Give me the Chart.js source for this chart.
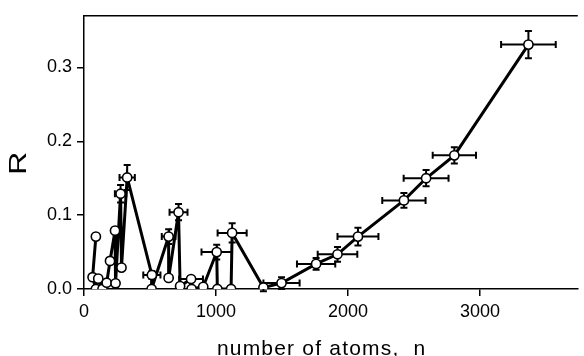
<!DOCTYPE html>
<html lang="en">
<head>
    <meta charset="UTF-8">
    <title>R vs number of atoms</title>
    <script src="https://cdn.jsdelivr.net/npm/chart.js"></script>
    <style>
        html, body {
            margin: 0;
            padding: 0;
            background: #fff;
        }
        .wrap {
            width: 584px;
            height: 356px;
        }
    </style>
</head>
<body>
<div class="wrap"><canvas id="chart"></canvas></div>
<script>
    // values, in the order the line joins them
    const atoms = [90, 65, 90, 108, 140, 172, 197, 235, 239, 277, 284, 327,
        514, 512, 641, 641, 716, 728, 811, 815, 903, 1005, 1010, 1114, 1122,
        1359, 1496, 1758, 1920, 2075, 2423, 2591, 2805, 3366];
    const rValues = [0.071, 0.016, 0.0, 0.014, 0.0, 0.0085, 0.038, 0.079, 0.0077, 0.129, 0.029, 0.151,
        0.019, 0.0, 0.071, 0.015, 0.104, 0.004, 0.0135, 0.0, 0.003, 0.05, 0.0, 0.0, 0.076,
        0.002, 0.008, 0.034, 0.047, 0.071, 0.12, 0.15, 0.181, 0.331];
    // error bars (0 = none drawn)
    const atomsErr = [0, 0, 0, 0, 0, 0, 0, 0, 0, 43, 0, 58,
        65, 0, 52, 0, 68, 0, 90, 0, 0, 115, 0, 0, 110,
        0, 137, 145, 150, 155, 164, 170, 164, 207];
    const rErr = [0, 0, 0, 0, 0, 0, 0, 0, 0, 0.012, 0, 0.017,
        0.005, 0, 0.01, 0, 0.011, 0, 0, 0, 0, 0.01, 0, 0, 0.013,
        0.005, 0.008, 0.008, 0.01, 0.012, 0.01, 0.011, 0.011, 0.0185];

    const xTicks = [0, 1000, 2000, 3000];
    const yTicks = [0, 0.1, 0.2, 0.3];
    const xTitle = "number of atoms,  n";
    const yTitle = "R";

    const points = atoms.map((x, i) => ({ x: x, y: rValues[i] }));

    // error bars drawn under the markers
    const errorBars = {
        id: 'errorBars',
        beforeDatasetsDraw(chart) {
            const ctx = chart.ctx;
            const xs = chart.scales.x, ys = chart.scales.y;
            const cap = 3.5;
            ctx.save();
            ctx.strokeStyle = '#000';
            ctx.lineWidth = 2;
            atoms.forEach((x, i) => {
                const px = xs.getPixelForValue(x);
                const py = ys.getPixelForValue(rValues[i]);
                if (atomsErr[i] > 0) {
                    const x1 = xs.getPixelForValue(x - atomsErr[i]);
                    const x2 = xs.getPixelForValue(x + atomsErr[i]);
                    ctx.beginPath();
                    ctx.moveTo(x1, py); ctx.lineTo(x2, py);
                    ctx.moveTo(x1, py - cap); ctx.lineTo(x1, py + cap);
                    ctx.moveTo(x2, py - cap); ctx.lineTo(x2, py + cap);
                    ctx.stroke();
                }
                if (rErr[i] > 0) {
                    const y1 = ys.getPixelForValue(rValues[i] - rErr[i]);
                    const y2 = ys.getPixelForValue(rValues[i] + rErr[i]);
                    ctx.beginPath();
                    ctx.moveTo(px, y1); ctx.lineTo(px, y2);
                    ctx.moveTo(px - cap, y1); ctx.lineTo(px + cap, y1);
                    ctx.moveTo(px - cap, y2); ctx.lineTo(px + cap, y2);
                    ctx.stroke();
                }
            });
            ctx.restore();
        }
    };

    // top frame line and the two axis titles
    const frame = {
        id: 'frame',
        afterDraw(chart) {
            const ctx = chart.ctx;
            const area = chart.chartArea;
            const xs = chart.scales.x, ys = chart.scales.y;
            ctx.save();
            ctx.strokeStyle = '#000';
            ctx.lineWidth = 1.5;
            ctx.beginPath();
            ctx.moveTo(area.left, area.top);
            ctx.lineTo(area.right, area.top);
            ctx.stroke();

            ctx.fillStyle = '#000';
            ctx.font = '21px "Liberation Sans", Arial, sans-serif';
            ctx.letterSpacing = '1.2px';
            ctx.textAlign = 'center';
            ctx.textBaseline = 'alphabetic';
            ctx.fillText(xTitle, xs.getPixelForValue(1800), 355);

            ctx.letterSpacing = '0px';
            ctx.translate(20, ys.getPixelForValue(0.17));
            ctx.rotate(-Math.PI / 2);
            ctx.scale(1.4, 1);
            ctx.font = '23px "Liberation Sans", Arial, sans-serif';
            ctx.textBaseline = 'middle';
            ctx.fillText(yTitle, 0, 0);
            ctx.restore();
        }
    };

    new Chart(document.getElementById('chart'), {
        type: 'scatter',
        data: {
            datasets: [{
                data: points,
                showLine: true,
                borderColor: '#000',
                borderWidth: 3,
                pointRadius: 4.6,
                pointBorderWidth: 1.6,
                pointBackgroundColor: '#fff',
                pointBorderColor: '#000'
            }]
        },
        options: {
            responsive: true,
            maintainAspectRatio: false,
            animation: false,
            layout: { padding: { top: 15, right: 0, left: 0, bottom: 0 } },
            plugins: {
                legend: { display: false },
                tooltip: { enabled: false }
            },
            scales: {
                x: {
                    type: 'linear',
                    min: 0,
                    max: 3740,
                    afterBuildTicks: (scale) => { scale.ticks = xTicks.map(v => ({ value: v })); },
                    afterFit: (scale) => { scale.height = 67; },
                    border: { display: true, color: '#000', width: 1.5 },
                    grid: { drawOnChartArea: false, drawTicks: true, tickLength: 7, color: '#000', lineWidth: 1.5 },
                    ticks: {
                        color: '#000',
                        padding: 5,
                        maxRotation: 0,
                        callback: (v) => String(v),
                        font: { family: '"Liberation Sans", Arial, sans-serif', size: 18 }
                    }
                },
                y: {
                    min: 0,
                    max: 0.37,
                    afterBuildTicks: (scale) => { scale.ticks = yTicks.map(v => ({ value: v })); },
                    afterFit: (scale) => { scale.width = 84; },
                    border: { display: true, color: '#000', width: 1.5 },
                    grid: { drawOnChartArea: false, drawTicks: true, tickLength: 7, color: '#000', lineWidth: 1.5 },
                    ticks: {
                        color: '#000',
                        padding: 5,
                        callback: (v) => v.toFixed(1),
                        font: { family: '"Liberation Sans", Arial, sans-serif', size: 18 }
                    }
                }
            }
        },
        plugins: [errorBars, frame]
    });
</script>
</body>
</html>
